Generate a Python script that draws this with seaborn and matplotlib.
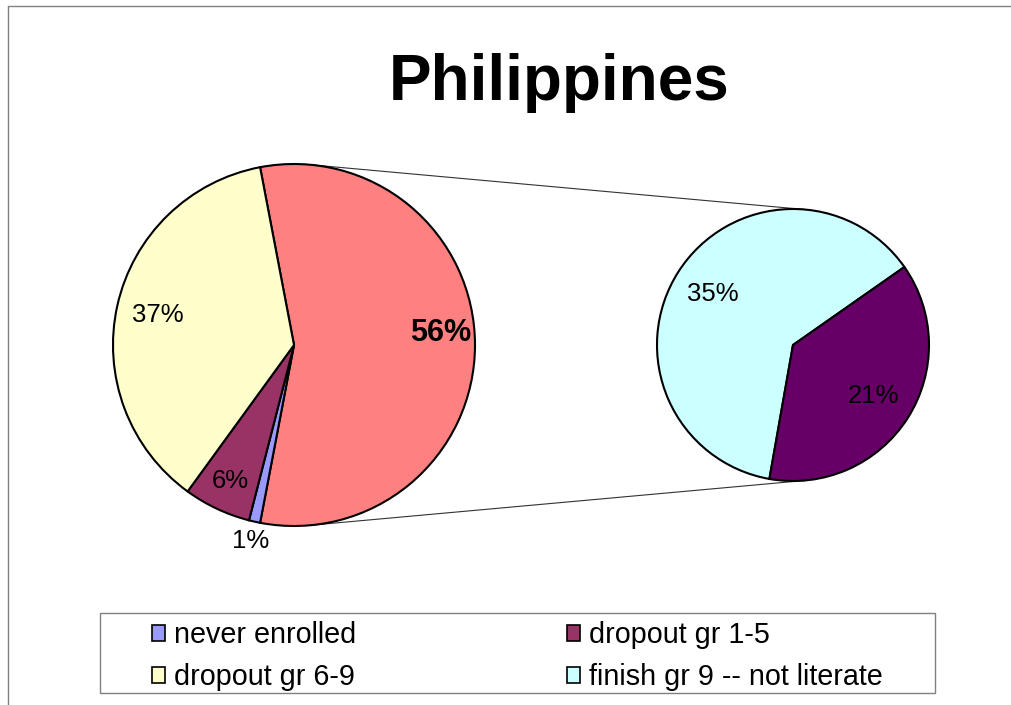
import numpy as np
import matplotlib.pyplot as plt
import seaborn as sns
from matplotlib.patches import Patch, Rectangle
from matplotlib.lines import Line2D

# data
title = "Philippines"
main_names = ["other", "never enrolled", "dropout gr 1-5", "dropout gr 6-9"]
main_values = [56, 1, 6, 37]
main_colors = ["#FF8080", "#9999FF", "#993366", "#FFFFCC"]
sub_names = ["finish gr 9 -- not literate", "finish gr 9 -- literate"]
sub_values = [35, 21]
sub_colors = ["#CCFFFF", "#660066"]
legend_names = ["never enrolled", "dropout gr 6-9", "dropout gr 1-5", "finish gr 9 -- not literate"]
legend_colors = ["#9999FF", "#FFFFCC", "#993366", "#CCFFFF"]

sns.set_theme(style="white")
plt.rcParams["font.family"] = ["Liberation Sans", "DejaVu Sans"]
plt.rcParams["text.color"] = "black"

W, H = 1011, 705
fig = plt.figure(figsize=(W / 100, H / 100), dpi=100)
ax = fig.add_axes([0, 0, 1, 1])

c1, r1 = (294, H - 345), 181
c2, r2 = (793, H - 345), 136
edge = dict(edgecolor="black", linewidth=1.5)

# main pie, "other" slice centred on the right
start = main_values[0] / sum(main_values) * 360 / 2
w1, _ = ax.pie(main_values, colors=sns.color_palette(main_colors), startangle=start,
               counterclock=False, center=c1, radius=r1, wedgeprops=edge, frame=True)
w2, _ = ax.pie(sub_values, colors=sns.color_palette(sub_colors), startangle=260,
               counterclock=False, center=c2, radius=r2, wedgeprops=edge, frame=True)

# percentage labels
main_dist = [0.81, 1.11, 0.83, 0.77]
for w, v, d in zip(w1, main_values, main_dist):
    a = np.deg2rad((w.theta1 + w.theta2) / 2)
    bold = v == main_values[0]
    ax.text(c1[0] + d * r1 * np.cos(a), c1[1] + d * r1 * np.sin(a) + (12 if bold else 0),
            f"{v}%", ha="center", va="center", fontsize=22 if bold else 18.5,
            fontweight="bold" if bold else "normal", color="black")
for w, v in zip(w2, sub_values):
    a = np.deg2rad((w.theta1 + w.theta2) / 2)
    ax.text(c2[0] + 0.70 * r2 * np.cos(a), c2[1] + 0.70 * r2 * np.sin(a),
            f"{v}%", ha="center", va="center", fontsize=18.5, color="black")

# connector lines (outer tangents between the two pies)
dx, dy = c2[0] - c1[0], c2[1] - c1[1]
dist = np.hypot(dx, dy)
phi = np.arctan2(dy, dx)
alpha = np.arccos((r1 - r2) / dist)
for s in (1, -1):
    t = phi + s * alpha
    ax.plot([c1[0] + r1 * np.cos(t), c2[0] + r2 * np.cos(t)],
            [c1[1] + r1 * np.sin(t), c2[1] + r2 * np.sin(t)],
            color="#333333", linewidth=0.8, zorder=0)

ax.text(559, H - 100, title, ha="center", va="baseline", fontsize=46,
        fontweight="bold", color="black")

# legend
ax.add_patch(Rectangle((100, H - 693), 835, 80, facecolor="none", edgecolor="#808080", linewidth=1))
handles = [Patch(facecolor=c, edgecolor="black", linewidth=1.2, label=n)
           for n, c in zip(legend_names, legend_colors)]
ax.legend(handles=handles, ncol=2, loc="upper left", bbox_to_anchor=(152, H - 621),
          bbox_transform=ax.transData, frameon=False, fontsize=20.7, handlelength=0.45,
          handleheight=0.5, handletextpad=0.3, columnspacing=7.35, labelspacing=0.5,
          borderpad=0, borderaxespad=0, labelcolor="black")

ax.set_xlim(0, W)
ax.set_ylim(0, H)
ax.set_aspect("equal")
ax.axis("off")

# chart area border (top and left edges visible)
fig.add_artist(Line2D([8 / W, 1], [1 - 6 / H, 1 - 6 / H], color="#808080", linewidth=1))
fig.add_artist(Line2D([8 / W, 8 / W], [0, 1 - 6 / H], color="#808080", linewidth=1))

fig.savefig("out.png", dpi=100)
